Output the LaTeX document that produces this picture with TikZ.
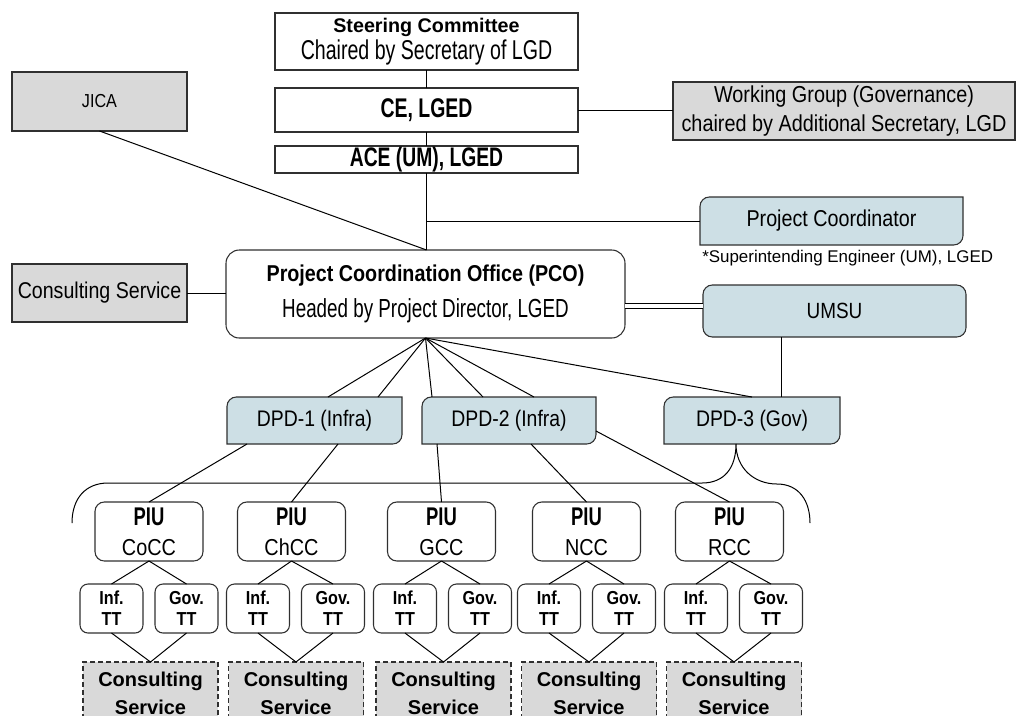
\documentclass[tikz,border=0pt]{standalone}
\usepackage{fontspec}
\setmainfont{Liberation Sans}
\newfontfamily\fA{Liberation Sans}
\newfontfamily\fB{Liberation Sans}[FakeStretch=0.86]
\newfontfamily\fC{Liberation Sans}[FakeStretch=0.72]
\usetikzlibrary{calc}
\pgfdeclarelayer{bg}
\pgfsetlayers{bg,main}
\definecolor{grayfill}{HTML}{D9D9D9}
\definecolor{bluefill}{HTML}{CDDFE5}
\definecolor{edge}{HTML}{303030}
\tikzset{
  box/.style={draw=edge, line width=0.8pt, inner sep=0pt, outer sep=0pt, align=center, font=\fB},
  whitebox/.style={box, fill=white},
  graybox/.style={box, fill=grayfill},
  roundbox/.style={box, fill=white, rounded corners=7pt},
  umsubox/.style={box, fill=bluefill, rounded corners=7pt},
  diagbox/.style={inner sep=0pt, outer sep=0pt, align=center, font=\fB\fontsize{16.9}{20}\selectfont},
  piubox/.style={roundbox, minimum width=81pt, minimum height=44.25pt, font=\fB\fontsize{17.3}{22.5}\selectfont},
  ttbox/.style={box, fill=white, rounded corners=6pt, minimum width=47.25pt, minimum height=36.75pt, font=\fB\bfseries\fontsize{14.1}{15.75}\selectfont},
  csbox/.style={box, fill=grayfill, dash pattern=on 3.5pt off 2.5pt, minimum width=101.25pt, minimum height=46.5pt, font=\fA\bfseries\fontsize{15}{21}\selectfont},
  link/.style={draw=black, line width=0.75pt},
}
\newcommand\diagshape[1]{%
  \begin{pgfonlayer}{bg}
  \draw[draw=edge, line width=0.8pt, fill=bluefill]
    ([xshift=7pt]#1.north west) -- (#1.north east) -- ([yshift=7pt]#1.south east)
    arc[start angle=0, end angle=-90, radius=7pt] -- (#1.south west) -- ([yshift=-7pt]#1.north west)
    arc[start angle=180, end angle=90, radius=7pt] -- cycle;
  \end{pgfonlayer}}
\begin{document}
\begin{tikzpicture}[x=0.75pt, y=-0.75pt]
\useasboundingbox (0,0) rectangle (1016,715);
\begin{pgfonlayer}{bg}
\fill[white] (0,0) rectangle (1016,715);
\end{pgfonlayer}
\clip (0,0) rectangle (1016,715);

% top chain
\node[whitebox, minimum width=227.25pt, minimum height=42.75pt, font=\fC\fontsize{20.4}{20.25}\selectfont] (sc) at (426.5,41.5)
  {{\fA\bfseries\fontsize{14.8}{20.25}\selectfont Steering Committee}\\Chaired by Secretary of LGD};
\node[whitebox, minimum width=227.25pt, minimum height=33pt, font=\fC\bfseries\fontsize{20.25}{24}\selectfont] (ce) at (426.5,110) {CE, LGED};
\node[whitebox, minimum width=227.25pt, minimum height=20.25pt, font=\fC\bfseries\fontsize{20.1}{24}\selectfont] (ace) at (426.5,159.5) {ACE (UM), LGED};

\node[graybox, minimum width=131.25pt, minimum height=44.25pt, font=\fB\fontsize{14.1}{17}\selectfont] (jica) at (99.5,101.5) {JICA};
\node[graybox, minimum width=256.5pt, minimum height=43.5pt, font=\fB\fontsize{17.3}{21.75}\selectfont] (wg) at (844,111)
  {Working Group (Governance)\\chaired by Additional Secretary, LGD};

\node[diagbox, minimum width=197.25pt, minimum height=36pt, font=\fB\fontsize{17.2}{20}\selectfont] (pc) at (831.5,221) {Project Coordinator};
\diagshape{pc}
\node[anchor=west, inner sep=0pt, font=\fA\fontsize{12.7}{15}\selectfont] (note) at (702,258) {*Superintending Engineer (UM), LGED};

\node[roundbox, rounded corners=10pt, minimum width=299.25pt, minimum height=66pt, font=\fB\fontsize{17.2}{27}\selectfont] (pco) at (425.5,294)
  {{\bfseries Project Coordination Office (PCO)}\\{\fC\fontsize{19.6}{27}\selectfont Headed by Project Director, LGED}};
\node[graybox, minimum width=131.25pt, minimum height=43.5pt, font=\fB\fontsize{17.1}{20}\selectfont] (csl) at (99.5,293) {Consulting Service};
\node[umsubox, minimum width=197.25pt, minimum height=39pt, font=\fB\fontsize{16.5}{20}\selectfont] (umsu) at (834.5,311) {UMSU};

\node[diagbox, minimum width=131.25pt, minimum height=35.25pt] (dpd1) at (314.5,420.5) {DPD-1 (Infra)};
\node[diagbox, minimum width=130.5pt, minimum height=35.25pt] (dpd2) at (509,420.5) {DPD-2 (Infra)};
\node[diagbox, minimum width=132pt, minimum height=35.25pt] (dpd3) at (752,420.5) {DPD-3 (Gov)};
\diagshape{dpd1}
\diagshape{dpd2}
\diagshape{dpd3}

% PIU groups
\foreach \pa/\ga/\ca/\lab/\i in {149/149/150.5/CoCC/1, 291.5/295.5/296/ChCC/2, 441.5/442.5/443.5/GCC/3, 586.5/586.5/589/NCC/4, 729.5/733.5/734/RCC/5} {
  \node[piubox] (piu\i) at (\pa,531.5) {{\fC\bfseries\fontsize{19.2}{22.5}\selectfont PIU}\\\lab};
  \node[ttbox] (inf\i) at (\ga-37.5,608.5) {Inf.\\TT};
  \node[ttbox] (gov\i) at (\ga+37.5,608.5) {Gov.\\TT};
  \node[csbox] (cs\i) at (\ca,693) {Consulting\\Service};
  \draw[link] (piu\i.south) -- (inf\i.north);
  \draw[link] (piu\i.south) -- (gov\i.north);
  \draw[link] (inf\i.south) -- (cs\i.north);
  \draw[link] (gov\i.south) -- (cs\i.north);
}

% connectors top
\draw[link] (sc.south) -- (ce.north);
\draw[link] (ce.south) -- (ace.north);
\draw[link] (ace.south) -- (ace.south |- pco.north);
\draw[link] (ace.south |- pc.west) -- (pc.west);
\draw[link] (jica.south) -- (ace.south |- pco.north);
\draw[link] (ce.east) -- (ce.east -| wg.west);
\draw[link] (csl.east) -- (csl.east -| pco.west);
\coordinate (dl) at ($(pco.east)+(0,12)$);
\draw[link, double, double distance=2.4pt] (dl) -- (dl -| umsu.west);
\coordinate (u3) at ($(umsu.south)+(-53.5,0)$);
\draw[link] (u3) -- (u3 |- dpd3.north);

% hub
\draw[link] (pco.south) -- ($(dpd1.north)+(13.5,0)$);
\draw[link] (pco.south) -- ($(dpd1.north)+(63.5,0)$);
\draw[link] (pco.south) -- ($(dpd2.north)+(-77,0)$);
\draw[link] (pco.south) -- ($(dpd2.north)+(-26,0)$);
\draw[link] (pco.south) -- ($(dpd2.north)+(25,0)$);
\draw[link] (pco.south) -- (dpd3.north);

% DPD to PIU
\draw[link] ($(dpd1.south)+(-67.5,0)$) -- (piu1.north);
\draw[link] ($(dpd1.south)+(23.5,0)$) -- (piu2.north);
\draw[link] ($(dpd2.south)+(-72,0)$) -- (piu3.north);
\draw[link] ($(dpd2.south)+(22,0)$) -- (piu4.north);
\draw[link] ($(dpd2.east)+(0,10.5)$) -- (piu5.north);

% brace
\coordinate (bt) at ($(dpd3.south)+(-16,0)$);
\draw[link] (72,523) .. controls (72,498) and (86,483) .. (108,483) -- (702,483)
  .. controls (725,483) and (736,467) .. (bt)
  .. controls (736,468) and (754,484) .. (777,484)
  .. controls (799,484) and (810,501) .. (810,523);
\end{tikzpicture}
\end{document}
